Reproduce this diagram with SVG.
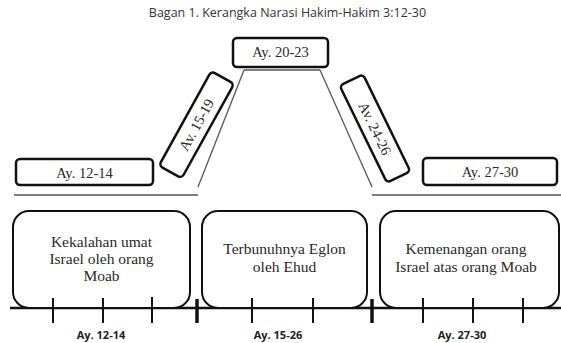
<svg xmlns="http://www.w3.org/2000/svg" width="561" height="343" viewBox="0 0 561 343">
  <style>
    .title { font-family: "Open Sans", "Liberation Sans", sans-serif; font-size: 12.5px; fill: #333; }
    .sbox { fill: #fff; stroke: #111; stroke-width: 2.5; }
    .bbox { fill: #fff; stroke: #111; stroke-width: 2; }
    .st { font-family: "Liberation Serif", serif; font-size: 14.5px; fill: #2a2a2a; text-anchor: middle; }
    .bt { font-family: "Liberation Serif", serif; font-size: 15.5px; fill: #2a2a2a; text-anchor: middle; }
    .lbl { font-family: "Open Sans", "Liberation Sans", sans-serif; font-size: 11px; font-weight: bold; fill: #222; text-anchor: middle; }
    .thin { stroke: #555; stroke-width: 1.3; fill: none; }
    .axis { stroke: #111; stroke-width: 2.5; }
    .tick { stroke: #111; stroke-width: 2; }
    .sep { stroke: #111; stroke-width: 3.5; }
  </style>

  <text class="title" x="287.5" y="17" text-anchor="middle">Bagan 1. Kerangka Narasi Hakim-Hakim 3:12-30</text>

  <g id="connectors">
    <line class="thin" x1="244" y1="70" x2="320" y2="70"/>
    <line class="thin" x1="244" y1="70" x2="198" y2="187"/>
    <line class="thin" x1="320" y1="70" x2="372" y2="187"/>
    <line class="thin" x1="14" y1="195" x2="198" y2="195"/>
    <line class="thin" x1="372" y1="195" x2="561" y2="195"/>
    <line class="axis" x1="10" y1="308" x2="561" y2="308"/>
  </g>

  <g id="node-ay-12-14-top">
    <rect class="sbox" x="16" y="159" width="137" height="26" rx="4"/>
    <text class="st" x="84.5" y="177.5">Ay. 12-14</text>
  </g>

  <g id="node-ay-15-19">
    <g transform="translate(196.5 124.7) rotate(-61)">
      <rect class="sbox" x="-54" y="-13" width="108" height="26" rx="4"/>
      <text class="st" x="0" y="5">Av. 15-19</text>
    </g>
  </g>

  <g id="node-ay-20-23">
    <rect class="sbox" x="233" y="38" width="95" height="29" rx="4"/>
    <text class="st" x="280.5" y="57">Ay. 20-23</text>
  </g>

  <g id="node-ay-24-26">
    <g transform="translate(375 128.5) rotate(64)">
      <rect class="sbox" x="-54" y="-13" width="108" height="26" rx="4"/>
      <text class="st" x="0" y="5">Av. 24-26</text>
    </g>
  </g>

  <g id="node-ay-27-30-top">
    <rect class="sbox" x="423" y="158" width="134" height="27" rx="4"/>
    <text class="st" x="490" y="177">Ay. 27-30</text>
  </g>

  <g id="node-kekalahan">
    <rect class="bbox" x="13" y="211" width="177" height="97" rx="16"/>
    <text class="bt" x="101.5" y="246.5">Kekalahan umat</text>
    <text class="bt" x="101.5" y="263.5">Israel oleh orang</text>
    <text class="bt" x="101.5" y="280.5">Moab</text>
  </g>

  <g id="node-terbunuhnya">
    <rect class="bbox" x="202" y="211" width="165" height="97" rx="16"/>
    <text class="bt" x="284.5" y="254">Terbunuhnya Eglon</text>
    <text class="bt" x="284.5" y="271.5">oleh Ehud</text>
  </g>

  <g id="node-kemenangan">
    <rect class="bbox" x="380" y="211" width="179" height="97" rx="16"/>
    <text class="bt" x="466" y="254">Kemenangan orang</text>
    <text class="bt" x="466" y="272">Israel atas orang Moab</text>
  </g>

  <g id="timeline">
    <line class="tick" x1="53" y1="298" x2="53" y2="323"/>
    <line class="tick" x1="103" y1="298" x2="103" y2="323"/>
    <line class="tick" x1="152" y1="297" x2="152" y2="323"/>
    <line class="sep" x1="197" y1="299" x2="197" y2="323"/>
    <line class="tick" x1="252" y1="298" x2="252" y2="323"/>
    <line class="tick" x1="313" y1="298" x2="313" y2="323"/>
    <line class="sep" x1="372" y1="299" x2="372" y2="323"/>
    <line class="tick" x1="423" y1="298" x2="423" y2="323"/>
    <line class="tick" x1="473" y1="298" x2="473" y2="323"/>
    <line class="tick" x1="523" y1="298" x2="523" y2="323"/>
    <text class="lbl" x="101" y="339">Ay. 12-14</text>
    <text class="lbl" x="278" y="339">Ay. 15-26</text>
    <text class="lbl" x="462" y="339">Ay. 27-30</text>
  </g>
</svg>
